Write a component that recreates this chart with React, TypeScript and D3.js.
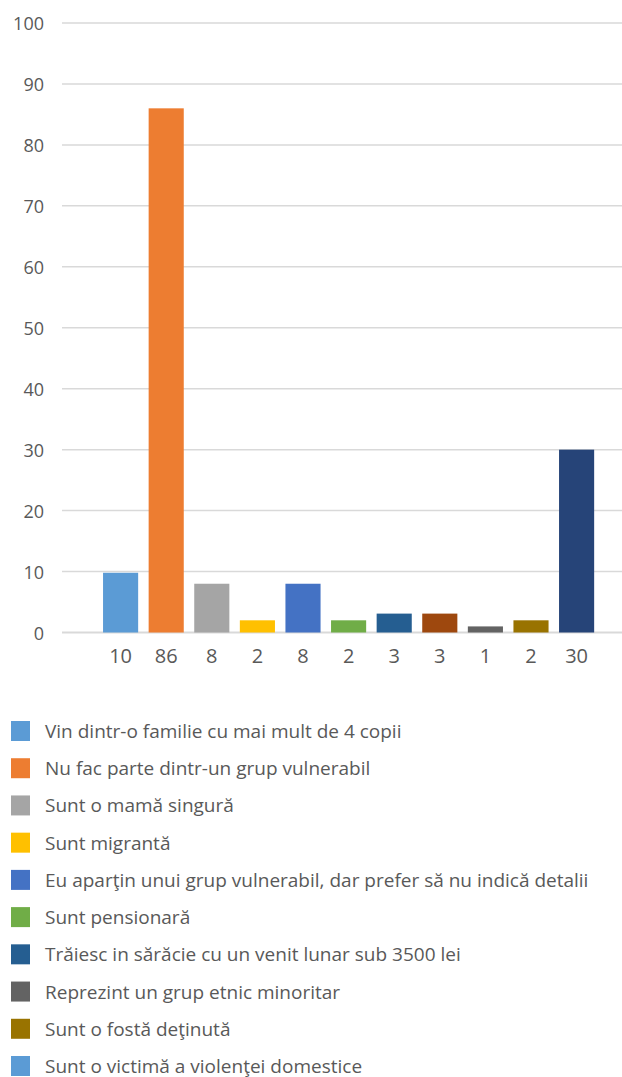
import React from 'react';
import * as d3 from 'd3';

const width = 622;
const height = 1077;
const textColor = '#595959';
const gridColor = '#d9d9d9';
const font = '"Open Sans", sans-serif';

const categories = ['c1', 'c2', 'c3', 'c4', 'c5', 'c6', 'c7', 'c8', 'c9', 'c10', 'c11'];
const values = [9.8, 86, 8, 2, 8, 2, 3.1, 3.1, 1, 2, 30];
const valueLabels = ['10', '86', '8', '2', '8', '2', '3', '3', '1', '2', '30'];
const barColors = ['#5b9bd5', '#ed7d31', '#a5a5a5', '#ffc000', '#4472c4', '#70ad47', '#255e91', '#9e480e', '#636363', '#997300', '#264478'];
const yTicks = [0, 10, 20, 30, 40, 50, 60, 70, 80, 90, 100];

const legendLabels = [
  'Vin dintr-o familie cu mai mult de 4 copii',
  'Nu fac parte dintr-un grup vulnerabil',
  'Sunt o mamă singură',
  'Sunt migrantă',
  'Eu aparţin unui grup vulnerabil, dar prefer să nu indică detalii',
  'Sunt pensionară',
  'Trăiesc in sărăcie cu un venit lunar sub 3500 lei',
  'Reprezint un grup etnic minoritar',
  'Sunt o fostă deţinută',
  'Sunt o victimă a violenţei domestice',
];
const legendColors = ['#5b9bd5', '#ed7d31', '#a5a5a5', '#ffc000', '#4472c4', '#70ad47', '#255e91', '#636363', '#997300', '#5b9bd5'];

const xScale = d3.scaleBand<string>()
  .domain(categories)
  .range([97.8, 599.4])
  .paddingInner(0.23)
  .paddingOuter(0.115);
const yScale = d3.scaleLinear().domain([0, 100]).range([632.5, 23]);
const legendY = d3.scaleLinear().domain([0, 9]).range([731, 1066]);

export default function App() {
  return (
    <div style={{ position: 'absolute', left: 0, top: 0 }}>
      <svg width={width} height={height} style={{ display: 'block', background: '#fff' }}>
        {yTicks.map(t => (
          <g key={t}>
            <line x1={62} x2={622} y1={yScale(t)} y2={yScale(t)} stroke={gridColor} strokeWidth={t === 0 ? 2 : 1.5} />
            <text x={44} y={yScale(t)} textAnchor="end" dominantBaseline="central"
              fontFamily={font} fontSize={18} fill={textColor}>{t}</text>
          </g>
        ))}
        {values.map((v, i) => (
          <rect key={i} x={xScale(categories[i])} y={yScale(v)} width={xScale.bandwidth()}
            height={yScale(0) - yScale(v)} fill={barColors[i]} />
        ))}
        {valueLabels.map((l, i) => (
          <text key={i} x={(xScale(categories[i]) as number) + xScale.bandwidth() / 2} y={655}
            textAnchor="middle" dominantBaseline="central" fontFamily={font} fontSize={20} fill={textColor}>{l}</text>
        ))}
        {legendLabels.map((l, i) => (
          <g key={i}>
            <rect x={11} y={legendY(i) - 10} width={19} height={20} fill={legendColors[i]} />
            <text x={45} y={legendY(i)} dominantBaseline="central" fontFamily={font} fontSize={19} fill={textColor}>{l}</text>
          </g>
        ))}
      </svg>
    </div>
  );
}
